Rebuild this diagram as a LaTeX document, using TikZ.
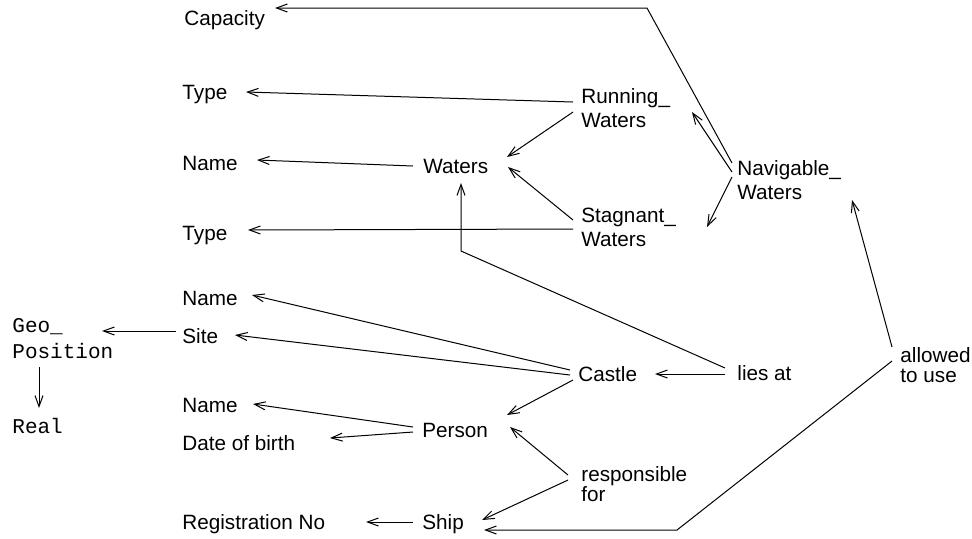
\documentclass[tikz,border=0pt]{standalone}
\usepackage{fontspec}
\setmainfont{Liberation Sans}
\setmonofont{Liberation Mono}
\usetikzlibrary{arrows.meta}
\begin{document}
\begin{tikzpicture}[x=0.5pt,y=-0.5pt,
                    arrow/.style = {line width=0.5pt,-{Straight Barb[length=5.5pt,width=4pt]}},
                    lbl/.style = {anchor=base west,inner sep=0pt,font=\fontsize{10.35}{12}\selectfont},
                    lblwide/.style = {lbl,align=left},
                    lbltight/.style = {lbl,align=left,font=\fontsize{10.35}{10}\selectfont},
                    mono/.style = {anchor=base west,inner sep=0pt,align=left,font=\ttfamily\fontsize{10.5}{13}\selectfont}]
                    \useasboundingbox (0,0) rectangle (972,538);

                    % attribute labels on the left
                    \node [lbl] (cap)   at (184,25)  {Capacity};
                    \node [lbl] (typeA) at (182,99)  {Type};
                    \node [lbl] (nameW) at (182,170) {Name};
                    \node [lbl] (typeB) at (182,240) {Type};
                    \node [lbl] (nameC) at (182,305) {Name};
                    \node [lbl] (site)  at (182,343) {Site};
                    \node [lbl] (nameP) at (182,412) {Name};
                    \node [lbl] (birth) at (182,450) {Date of birth};
                    \node [lbl] (regno) at (182,529) {Registration No};

                    \node [mono] (geo)  at (12,358) {Geo\_\\Position};
                    \node [mono] (real) at (12,433) {Real};

                    % classes
                    \node [lbl] (waters) at (423,173) {Waters};
                    \node [lblwide] (run)  at (581,127) {Running\_\\Waters};
                    \node [lblwide] (stag) at (581,246) {Stagnant\_\\Waters};
                    \node [lblwide] (nav)  at (737,199) {Navigable\_\\Waters};
                    \node [lbl] (castle) at (578,381) {Castle};
                    \node [lbl] (person) at (422,437) {Person};
                    \node [lbl] (ship)   at (422,529) {Ship};

                    % relations
                    \node [lbl] (lies) at (737,380) {lies at};
                    \node [lbltight] (allow) at (900,382) {allowed\\to use};
                    \node [lbltight] (resp)  at (581,501) {responsible\\for};

                    \coordinate (capbend)   at (647,8);
                    \coordinate (liesbend)  at (461,251);
                    \coordinate (allowbend) at (677,530);

                    \draw[arrow] ([shift={(-5,-36)}]nav.base west) -- (capbend) -- ([shift={(91,-17)}]cap.base west);
                    \draw[arrow] ([shift={(-5,-27)}]nav.base west) -- ([shift={(111,-15)}]run.base west);
                    \draw[arrow] ([shift={(-5,-22)}]nav.base west) -- ([shift={(126,-19)}]stag.base west);

                    \draw[arrow] ([shift={(-8,-25)}]run.base west) -- ([shift={(64,-7)}]typeA.base west);
                    \draw[arrow] ([shift={(-8,-15)}]run.base west) -- ([shift={(84,-16)}]waters.base west);
                    \draw[arrow] ([shift={(-8,-26)}]stag.base west) -- ([shift={(85,-6)}]waters.base west);
                    \draw[arrow] ([shift={(-8,-17)}]stag.base west) -- ([shift={(66,-10)}]typeB.base west);
                    \draw[arrow] ([shift={(-10,-7)}]waters.base west) -- ([shift={(75,-10)}]nameW.base west);

                    \draw[arrow] ([shift={(-12,-12)}]lies.base west) -- (liesbend) -- ([shift={(38,10)}]waters.base west);
                    \draw[arrow] ([shift={(-12,-6)}]lies.base west) -- ([shift={(77,-7)}]castle.base west);

                    \draw[arrow] ([shift={(-8,-11)}]castle.base west) -- ([shift={(70,-10)}]nameC.base west);
                    \draw[arrow] ([shift={(-8,-6)}]castle.base west) -- ([shift={(53,-8)}]site.base west);
                    \draw[arrow] ([shift={(-5,-1)}]castle.base west) -- ([shift={(85,-22)}]person.base west);

                    \draw[arrow] ([shift={(-9,-10)}]person.base west) -- ([shift={(71,-8)}]nameP.base west);
                    \draw[arrow] ([shift={(-9,-5)}]person.base west) -- ([shift={(148,-12)}]birth.base west);

                    \draw[arrow] ([shift={(-6,-12)}]site.base west) -- ([shift={(90,-27)}]geo.base west);
                    \draw[arrow] ([shift={(27,9)}]geo.base west) -- ([shift={(27,-25)}]real.base west);

                    \draw[arrow] ([shift={(-13,-26)}]resp.base west) -- ([shift={(88,-10)}]person.base west);
                    \draw[arrow] ([shift={(-13,-21)}]resp.base west) -- ([shift={(60,-9)}]ship.base west);

                    \draw[arrow] ([shift={(-8,-35)}]allow.base west) -- ([shift={(115,1)}]nav.base west);
                    \draw[arrow] ([shift={(-8,-21)}]allow.base west) -- (allowbend) -- ([shift={(62,1)}]ship.base west);

                    \draw[arrow] ([shift={(-9,-7)}]ship.base west) -- ([shift={(184,-7)}]regno.base west);
\end{tikzpicture}
\end{document}
